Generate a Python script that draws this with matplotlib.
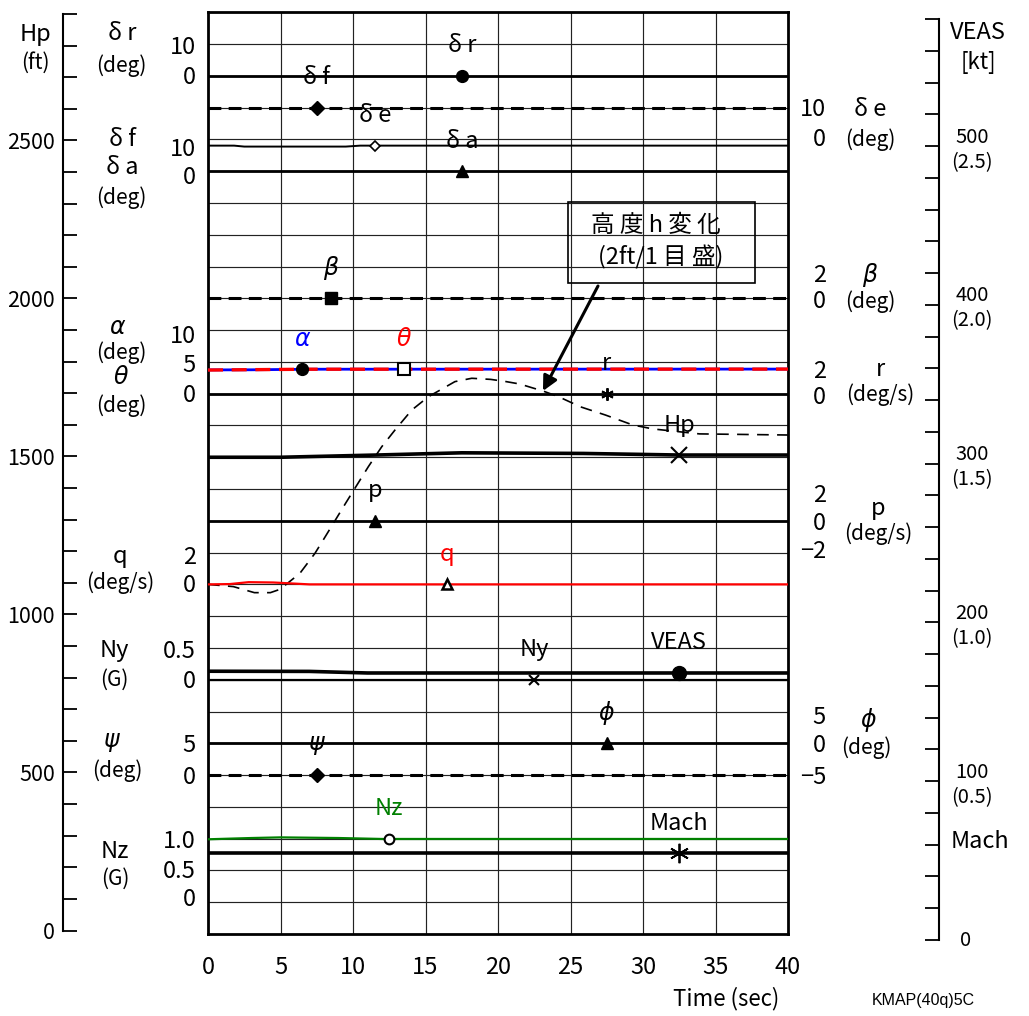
import numpy as np
import matplotlib.pyplot as plt
from matplotlib.patches import Rectangle

plt.rcParams['font.family'] = ['Noto Sans CJK JP', 'DejaVu Sans']
plt.rcParams['mathtext.fontset'] = 'dejavusans'

W, H = 1029, 1016

#------------------------------------------------------------------
# time histories (values in the units of each scale)
t_flat = [0, 40]

dr = [0.0, 0.0]          # deg
df = [20.0, 20.0]        # deg
da = [0.0, 0.0]          # deg
beta = [0.0, 0.0]        # deg
r = [0.0, 0.0]           # deg/s
p = [0.0, 0.0]           # deg/s
ny = [0.0, 0.0]          # G
phi = [0.0, 0.0]         # deg
psi = [0.0, 0.0]         # deg
mach = [0.274, 0.274]

t_de = [0, 1.8, 2.5, 9.5, 10.5, 40]
de = [-1.95, -1.95, -2.25, -2.25, -1.95, -1.95]

t_alpha = [0, 3, 7, 40]
alpha = [3.74, 3.76, 3.85, 3.87]
theta = [3.72, 3.78, 3.85, 3.87]

# altitude change, 2 ft per grid
t_dh = [0, 1.75, 3.2, 4.3, 4.97, 6.34, 7.38, 7.95, 9.5, 11.06, 11.98, 12.9,
        14.05, 15.2, 17.03, 18.19, 19.5, 20.5, 21.5, 22.4, 23.1, 24.2, 25.7,
        27.4, 29.3, 30.7, 33.9, 40]
dh = [0.0, -0.14, -0.52, -0.52, -0.31, 0.70, 1.96, 2.80, 5.12, 7.41, 8.66, 9.72,
      10.97, 11.81, 12.76, 12.97, 12.90, 12.77, 12.61, 12.36, 12.17, 11.80, 11.17,
      10.66, 10.03, 9.78, 9.47, 9.40]

t_hp = [0, 5, 11.6, 17.5, 25.9, 32.5, 40]
hp = [1500, 1500, 1507, 1514, 1512, 1507, 1507]      # ft

t_q = [0, 1.5, 2.8, 4.5, 7.0, 40]
q = [0.0, 0.02, 0.14, 0.12, 0.0, 0.0]

t_veas = [0, 7, 11, 40]
veas = [169.3, 169.2, 168.2, 168.2]    # kt

t_nz = [0, 3, 5, 9, 12, 40]
nz = [0.99, 1.01, 1.02, 1.01, 0.995, 0.995]

hp_ticks = [0, 500, 1000, 1500, 2000, 2500]
veas_ticks = [100, 200, 300, 400, 500]
time_ticks = [0, 5, 10, 15, 20, 25, 30, 35, 40]
#------------------------------------------------------------------

def fx(x):
    return x / W

def fy(y):
    return 1 - y / H

def ftext(x, y, s, **kw):
    kw.setdefault('ha', 'center')
    kw.setdefault('va', 'center')
    fig.text(fx(x), fy(y), s, **kw)


fig = plt.figure(figsize=(W / 100, H / 100), dpi=100)
ax = fig.add_axes([fx(208), fy(934), (788 - 208) / W, (934 - 12.3) / H])
ax.set_xlim(0, 40)
ax.set_ylim(0, 29)

# grid
for k in range(1, 29):
    ax.axhline(k, color='#222222', lw=0.85, zorder=1)
for t in time_ticks[1:-1]:
    ax.axvline(t, color='#222222', lw=0.85, zorder=1)
for s in ax.spines.values():
    s.set_linewidth(2.0)
ax.set_yticks([])
ax.set_xticks(time_ticks)
ax.set_xticklabels([str(t) for t in time_ticks], fontsize=17)
ax.tick_params(axis='x', length=0, pad=16)

# twin axis for VEAS / Mach (0 kt sits 6 px below the grid bottom)
axv = ax.twinx()
axv.set_ylim(20 * (940 - 934) / 31.75, 20 * (940 - 12.3) / 31.75)
axv.axis('off')

# zero grid and value per grid
lay = {'dr': (27, 10), 'df': (24, 10), 'de': (25, 10), 'da': (24, 10),
       'beta': (20, 2), 'alpha': (17, 5), 'r': (17, 2), 'dh': (11, 2),
       'hp': (0, 100), 'p': (13, 2), 'q': (11, 2), 'ny': (8, 0.5),
       'phi': (6, 5), 'psi': (5, 5), 'nz': (1, 0.5)}


def trace(key, t, v, **kw):
    z, per = lay[key]
    ax.plot(t, z + np.asarray(v) / per, zorder=3, **kw)


def mark(a, t, u, tm, label, lcol='k', **mk):
    um = np.interp(tm, t, u)
    a.plot([tm], [um], linestyle='none', zorder=5, **mk)
    a.annotate(label, (tm, um), xytext=(0, 30), textcoords='offset pixels',
               ha='center', va='center', fontsize=17, color=lcol, zorder=6)


def u_of(key, v):
    z, per = lay[key]
    return z + np.asarray(v) / per


dash_k = (0, (4.2, 2.4))
trace('dr', t_flat, dr, color='k', lw=2.0)
trace('df', t_flat, df, color='k', lw=2.2, ls=dash_k)
trace('de', t_de, de, color='k', lw=1.4)
trace('da', t_flat, da, color='k', lw=2.0)
trace('beta', t_flat, beta, color='k', lw=2.2, ls=dash_k)
trace('r', t_flat, r, color='k', lw=2.0)
trace('alpha', t_alpha, alpha, color='#0000ff', lw=2.0)
trace('alpha', t_alpha, theta, color='#ff0000', lw=2.4, ls=(0, (4.5, 2.6)))
trace('dh', t_dh, dh, color='k', lw=1.2, ls=(0, (7, 5)))
trace('hp', t_hp, hp, color='k', lw=2.6)
trace('p', t_flat, p, color='k', lw=2.0)
trace('q', t_q, q, color='#ff0000', lw=1.6)
trace('ny', t_flat, ny, color='k', lw=1.6)
trace('phi', t_flat, phi, color='k', lw=2.0)
trace('psi', t_flat, psi, color='k', lw=2.2, ls=dash_k)
trace('nz', t_nz, nz, color='#008000', lw=1.6)
axv.plot(t_veas, veas, color='k', lw=2.6, zorder=3)
axv.plot(t_flat, np.asarray(mach) * 200, color='k', lw=2.6, zorder=3)

mark(ax, t_flat, u_of('dr', dr), 17.5, 'δ r', marker='o', ms=8.5, color='k')
mark(ax, t_flat, u_of('df', df), 7.5, 'δ f', marker='D', ms=7, color='k')
mark(ax, t_de, u_of('de', de), 11.5, 'δ e', marker='D', ms=5, mfc='w', mec='k', mew=1.2)
mark(ax, t_flat, u_of('da', da), 17.5, 'δ a', marker='^', ms=8, color='k')
mark(ax, t_flat, u_of('beta', beta), 8.5, r'$\beta$', marker='s', ms=8, color='k')
mark(ax, t_alpha, u_of('alpha', alpha), 6.5, r'$\alpha$', lcol='#0000ff', marker='o', ms=8.5, color='k')
mark(ax, t_alpha, u_of('alpha', theta), 13.5, r'$\theta$', lcol='#ff0000', marker='s', ms=8,
     mfc='w', mec='k', mew=1.5)
mark(ax, t_flat, u_of('r', r), 27.5, 'r', marker=(6, 2, 0), ms=9, mec='k', mew=1.4)
mark(ax, t_hp, u_of('hp', hp), 32.5, 'Hp', marker='x', ms=12, mec='k', mew=1.5)
mark(ax, t_flat, u_of('p', p), 11.5, 'p', marker='^', ms=8, color='k')
mark(ax, t_q, u_of('q', q), 16.5, 'q', lcol='#ff0000', marker='^', ms=7, mfc='w', mec='k', mew=1.8)
mark(ax, t_flat, u_of('ny', ny), 22.5, 'Ny', marker='x', ms=7.5, mec='k', mew=1.5)
mark(axv, t_veas, veas, 32.5, 'VEAS', marker='o', ms=10, color='k')
mark(ax, t_flat, u_of('phi', phi), 27.5, r'$\phi$', marker='^', ms=8, color='k')
mark(ax, t_flat, u_of('psi', psi), 7.5, r'$\psi$', marker='D', ms=7, color='k')
mark(ax, t_nz, u_of('nz', nz), 12.5, 'Nz', lcol='#008000', marker='o', ms=7, mfc='w', mec='k', mew=1.5)
mark(axv, t_flat, np.asarray(mach) * 200, 32.5, 'Mach', marker=(6, 2, 0), ms=14, mec='k', mew=1.3)

# altitude change note
fig.patches.append(Rectangle((fx(568), fy(283)), (755 - 568) / W, (283 - 202) / H,
                             transform=fig.transFigure, fill=False, lw=1.2, ec='k'))
ftext(656, 226, '高 度 h 変 化', fontsize=17)
ftext(661, 257, '(2ft/1 目 盛)', fontsize=17)
t_tip = 23.1
ax.annotate('', xy=(t_tip, u_of('dh', np.interp(t_tip, t_dh, dh))),
            xytext=(598, H - 286), textcoords='figure pixels',
            arrowprops=dict(arrowstyle='-|>', color='k', lw=2.2, mutation_scale=22,
                            shrinkA=0, shrinkB=0))

# Hp scale on the left
axh = fig.add_axes([fx(63), fy(930.5), 0.01, (930.5 - 14) / H])
axh.set_ylim(0, 2900)
axh.patch.set_visible(False)
for s in ['top', 'right', 'bottom']:
    axh.spines[s].set_visible(False)
axh.spines['left'].set_linewidth(1.5)
axh.set_xticks([])
axh.set_yticks(hp_ticks)
axh.set_yticklabels([str(v) for v in hp_ticks], fontsize=15.5)
axh.set_yticks(range(0, 2901, 100), minor=True)
axh.tick_params(axis='y', which='both', direction='in', length=10, width=1.3, pad=6)

# VEAS scale on the right
axr = fig.add_axes([fx(929), fy(940), 10 / W, (940 - 19.2) / H])
axr.set_ylim(0, 580)
axr.patch.set_visible(False)
for s in ['top', 'left', 'bottom']:
    axr.spines[s].set_visible(False)
axr.spines['right'].set_linewidth(1.5)
axr.set_xticks([])
axr.yaxis.tick_right()
axr.set_yticks(range(0, 581, 20))
axr.set_yticklabels([])
axr.tick_params(axis='y', direction='in', length=10, width=1.3)
for v in veas_ticks:
    yp = 940 - v / 20 * 31.75
    ftext(972, yp - 9, str(v), fontsize=14.5)
    ftext(972, yp + 16, '(%.1f)' % (v / 200), fontsize=14.5)
ftext(966, 941, '0', fontsize=14.5)
ftext(978, 33, 'VEAS', fontsize=17)
ftext(978, 62, '[kt]', fontsize=16)
ftext(980, 842, 'Mach', fontsize=17)

# left side channel labels
ftext(36, 34, 'Hp', fontsize=17)
ftext(35, 63, '(ft)', fontsize=15)
for x, y, s, fs in [(122, 34, 'δ r', 17), (121, 66, '(deg)', 15),
                    (122, 139, 'δ f', 17), (122, 168, 'δ a', 17), (121, 198, '(deg)', 15),
                    (118, 328, r'$\alpha$', 17), (121, 353, '(deg)', 15),
                    (121, 377, r'$\theta$', 17), (121, 406, '(deg)', 15),
                    (120, 557, 'q', 17), (120, 583, '(deg/s)', 15),
                    (114, 650, 'Ny', 17), (114, 680, '(G)', 15),
                    (112, 742, r'$\psi$', 17), (117, 771, '(deg)', 15),
                    (115, 851, 'Nz', 17), (115, 879, '(G)', 15)]:
    ftext(x, y, s, fontsize=fs)
for y, s in [(48, '10'), (78, '0'), (149, '10'), (178, '0'),
             (336, '10'), (366, '5'), (396, '0'), (557, '2'), (585, '0'),
             (651, '0.5'), (682, '0'), (746, '5'), (777, '0'),
             (841, '1.0'), (871, '0.5'), (900, '0')]:
    ftext(196, y, s, fontsize=17, ha='right')

# right side channel labels
for y, s in [(109, '10'), (140, '0'), (275, '2'), (302, '0'), (371, '2'), (398, '0'),
             (496, '2'), (523, '0'), (552, '−2'), (718, '5'), (746, '0'), (777, '−5')]:
    ftext(826, y, s, fontsize=17, ha='right')
for x, y, s, fs in [(870, 110, 'δ e', 17), (870, 140, '(deg)', 15),
                    (870, 275, r'$\beta$', 17), (870, 302, '(deg)', 15),
                    (880, 370, 'r', 17), (880, 395, '(deg/s)', 15),
                    (878, 508, 'p', 17), (878, 534, '(deg/s)', 15),
                    (868, 720, r'$\phi$', 17), (866, 748, '(deg)', 15)]:
    ftext(x, y, s, fontsize=fs)

ftext(726, 999, 'Time (sec)', fontsize=16)
ftext(923, 1000, 'KMAP(40q)5C', fontsize=11.5, family='Liberation Sans')

plt.savefig('out.png', dpi=100)
